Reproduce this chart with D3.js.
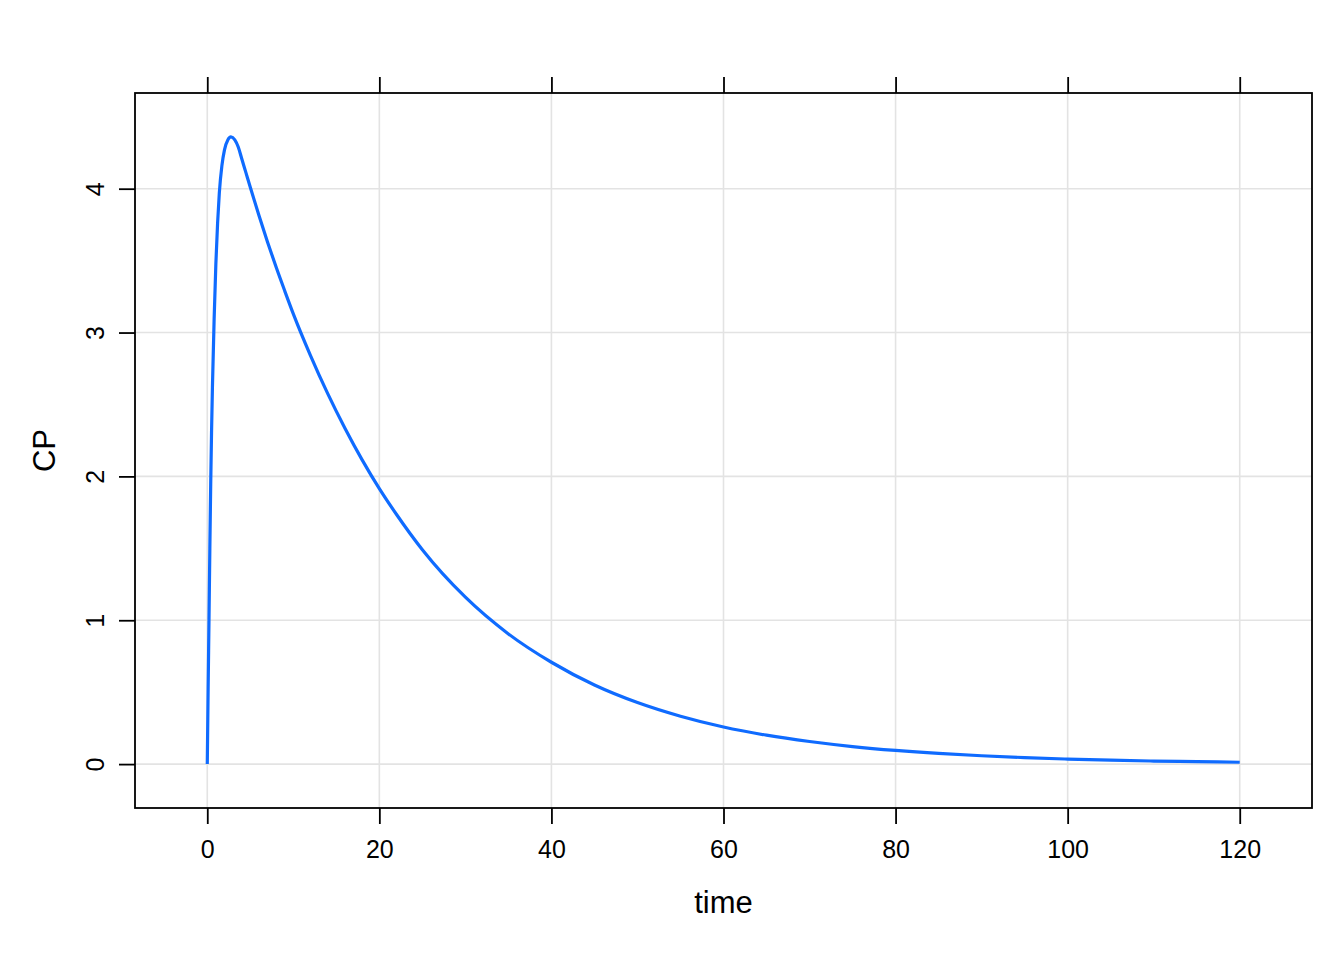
<!DOCTYPE html>
<html>
<head>
<meta charset="utf-8">
<script src="https://cdn.jsdelivr.net/npm/d3@7"></script>
<style>
  html, body { margin: 0; padding: 0; background: #ffffff; }
  svg { display: block; }
  text { font-family: "Liberation Sans", Arial, Helvetica, sans-serif; fill: #000; }
</style>
</head>
<body>
<svg id="chart" width="1344" height="960"></svg>
<script>
// ---- data ----
const time = [0, 0.1, 0.2, 0.3, 0.4, 0.5, 0.6, 0.8, 1.0, 1.2, 1.4, 1.7, 2.0, 2.4, 2.75, 3.2, 3.6, 4.0, 4.5, 5, 6, 7, 8, 9, 10, 12, 14, 16, 18, 20, 22, 25, 30, 35, 40, 45, 50, 55, 60, 65, 70, 75, 80, 85, 90, 95, 100, 105, 110, 115, 120];
const CP   = [0, 0.52, 1.0, 1.5, 1.95, 2.32, 2.62, 3.1, 3.48, 3.76, 3.97, 4.16, 4.27, 4.34, 4.36, 4.34, 4.29, 4.21, 4.11, 4.01, 3.815, 3.63, 3.455, 3.29, 3.13, 2.84, 2.575, 2.335, 2.115, 1.915, 1.735, 1.49, 1.16, 0.905, 0.708, 0.55, 0.428, 0.333, 0.258, 0.201, 0.157, 0.122, 0.095, 0.074, 0.058, 0.045, 0.035, 0.027, 0.021, 0.017, 0.013];
const xTicks = [0, 20, 40, 60, 80, 100, 120];
const yTicks = [0, 1, 2, 3, 4];
const xLabel = "time";
const yLabel = "CP";

// ---- layout ----
const svg = d3.select("#chart");
const panel = { left: 135, right: 1312, top: 93, bottom: 808 };

const xExt = d3.extent(time), yExt = d3.extent(CP);
const xPad = (xExt[1] - xExt[0]) * 0.07, yPad = (yExt[1] - yExt[0]) * 0.07;
const x = d3.scaleLinear().domain([xExt[0] - xPad, xExt[1] + xPad]).range([panel.left, panel.right]);
const y = d3.scaleLinear().domain([yExt[0] - yPad, yExt[1] + yPad]).range([panel.bottom, panel.top]);

const gridColor = "#e3e3e3";
const lineColor = "#0f6bff";

// gridlines
svg.append("g").selectAll("line.vx").data(xTicks).join("line")
  .attr("x1", d => x(d)).attr("x2", d => x(d))
  .attr("y1", panel.top).attr("y2", panel.bottom)
  .attr("stroke", gridColor).attr("stroke-width", 1.6);
svg.append("g").selectAll("line.hy").data(yTicks).join("line")
  .attr("x1", panel.left).attr("x2", panel.right)
  .attr("y1", d => y(d)).attr("y2", d => y(d))
  .attr("stroke", gridColor).attr("stroke-width", 1.6);

// curve
const data = time.map((t, i) => ({ t, v: CP[i] }));
svg.append("path").datum(data)
  .attr("fill", "none").attr("stroke", lineColor).attr("stroke-width", 3.2)
  .attr("stroke-linejoin", "round")
  .attr("d", d3.line().x(d => x(d.t)).y(d => y(d.v)).curve(d3.curveMonotoneX));

// panel border
svg.append("rect")
  .attr("x", panel.left).attr("y", panel.top)
  .attr("width", panel.right - panel.left).attr("height", panel.bottom - panel.top)
  .attr("fill", "none").attr("stroke", "#000").attr("stroke-width", 1.8);

// axes (bottom with labels, top ticks only, left with rotated labels)
const fs = 25;
const bottomAxis = d3.axisBottom(x).tickValues(xTicks).tickSize(16).tickPadding(10).tickFormat(d3.format("d"));
const gb = svg.append("g").attr("transform", `translate(0,${panel.bottom})`).call(bottomAxis);
gb.select(".domain").remove();
gb.selectAll(".tick line").attr("stroke", "#000").attr("stroke-width", 1.8);
gb.selectAll(".tick text").attr("font-size", fs).attr("font-family", "Liberation Sans, Arial, sans-serif").attr("fill", "#000")
  .attr("dy", null).attr("y", 50);

const topAxis = d3.axisTop(x).tickValues(xTicks).tickSize(16).tickFormat("");
const gt = svg.append("g").attr("transform", `translate(0,${panel.top})`).call(topAxis);
gt.select(".domain").remove();
gt.selectAll(".tick line").attr("stroke", "#000").attr("stroke-width", 1.8);

const leftAxis = d3.axisLeft(y).tickValues(yTicks).tickSize(16).tickFormat(d3.format("d"));
const gl = svg.append("g").attr("transform", `translate(${panel.left},0)`).call(leftAxis);
gl.select(".domain").remove();
gl.selectAll(".tick line").attr("stroke", "#000").attr("stroke-width", 1.8);
gl.selectAll(".tick text")
  .attr("font-size", fs).attr("font-family", "Liberation Sans, Arial, sans-serif").attr("fill", "#000")
  .attr("x", null).attr("dy", null)
  .attr("text-anchor", "middle")
  .attr("transform", "translate(-31,0) rotate(-90)");

// axis titles
svg.append("text").attr("x", (panel.left + panel.right) / 2).attr("y", 913)
  .attr("text-anchor", "middle").attr("font-size", 31).text(xLabel);
svg.append("text").attr("transform", `translate(55,${(panel.top + panel.bottom) / 2}) rotate(-90)`)
  .attr("text-anchor", "middle").attr("font-size", 31).text(yLabel);
</script>
</body>
</html>
